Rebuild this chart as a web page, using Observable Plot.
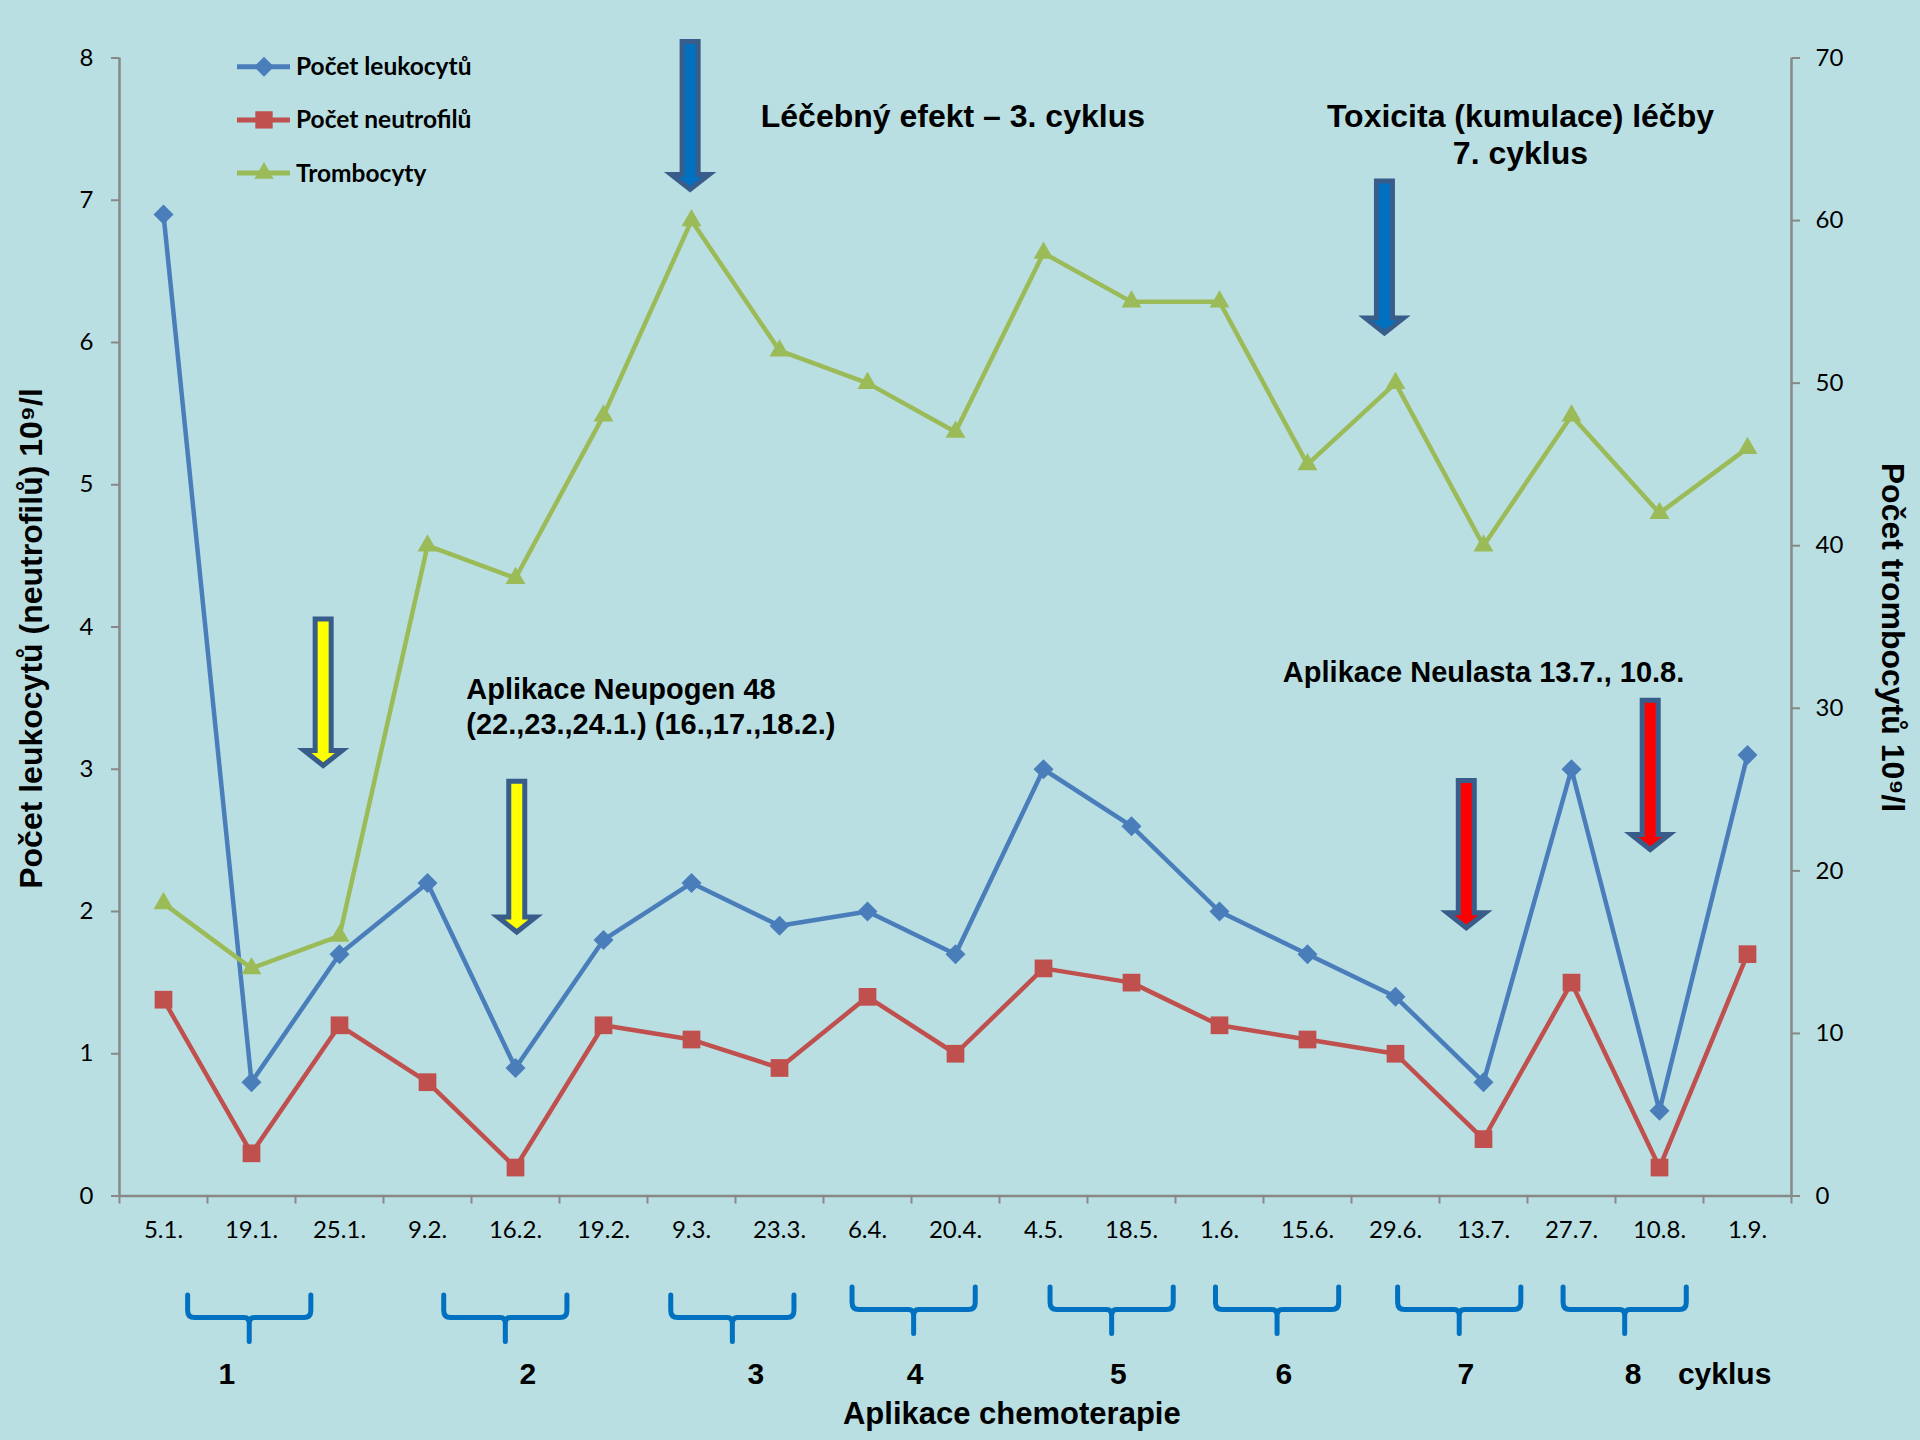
<!DOCTYPE html>
<html><head><meta charset="utf-8">
<script src="https://cdn.jsdelivr.net/npm/d3@7"></script>
<script src="https://cdn.jsdelivr.net/npm/@observablehq/plot@0.6"></script>
<style>
html,body{margin:0;padding:0;background:#b9dfe3;}
#chart svg{display:block;}
</style></head><body><div id="chart"></div>
<script>
// ---- data ----
const dates = ["5.1.","19.1.","25.1.","9.2.","16.2.","19.2.","9.3.","23.3.","6.4.","20.4.","4.5.","18.5.","1.6.","15.6.","29.6.","13.7.","27.7.","10.8.","1.9."];
const leukocyty = [6.9,0.8,1.7,2.2,0.9,1.8,2.2,1.9,2.0,1.7,3.0,2.6,2.0,1.7,1.4,0.8,3.0,0.6,3.1];
const neutrofily = [1.38,0.3,1.2,0.8,0.2,1.2,1.1,0.9,1.4,1.0,1.6,1.5,1.2,1.1,1.0,0.4,1.5,0.2,1.7];
const trombocyty = [18,14,16,40,38,48,60,52,50,47,58,55,55,45,50,40,48,42,46];
const leftTicks = [0,1,2,3,4,5,6,7,8];
const rightTicks = [0,10,20,30,40,50,60,70];
const seriesNames = ["Počet leukocytů","Počet neutrofilů","Trombocyty"];
const leftTitle = "Počet leukocytů (neutrofilů) 10⁹/l";
const rightTitle = "Počet trombocytů 10⁹/l";
const xTitle = "Aplikace chemoterapie";
const xTitlePos = 9.64;
const cycleNames = ["1","2","3","4","5","6","7","8"];
const cycleBracePos = [0.98,3.89,6.47,8.53,10.78,12.66,14.73,16.61];
const cycleLabelPos = [0.72,4.14,6.73,8.54,10.85,12.73,14.8,16.7];
const cycleWord = "cyklus";
const cycleWordPos = 17.74;
const arrowPos = [1.82,4.02,5.99,13.88,14.81,16.9];
const arrowTop = [4.07,2.93,8.13,7.15,2.935,3.5];
const arrowTip = [3.0,1.83,7.05,6.04,1.86,2.41];
const arrowKind = ["neupogen","neupogen","efekt","toxicita","neulasta","neulasta"];
const noteCenter = ["Léčebný efekt – 3. cyklus","Toxicita (kumulace) léčby\n7. cyklus"];
const noteCenterX = [8.97,15.42];
const noteCenterY = [7.514,7.258];
const noteLeft = ["Aplikace Neupogen 48\n(22.,23.,24.1.) (16.,17.,18.2.)","Aplikace Neulasta 13.7., 10.8."];
const noteLeftX = [3.44,12.72];
const noteLeftY = [3.25,3.61];

// ---- build ----
const K = 8/70; // right axis (0-70) mapped onto left axis (0-8)
const rows = dates.map((d,i)=>({i, date:d, leu:leukocyty[i], neu:neutrofily[i], trom:trombocyty[i]*K}));
const colors = ["#4a7ebb","#c0504d","#9bbb59"];
const AX = "#888888";
const ARIAL = "'Liberation Sans', Arial, sans-serif";
const arrowFill = {neupogen:"#ffff00", efekt:"#0070c0", toxicita:"#0070c0", neulasta:"#ff0000"};
const arrows = arrowPos.map((x,k)=>({x, top:arrowTop[k], tip:arrowTip[k], kind:arrowKind[k]}));
const boundaries = d3.range(dates.length+1).map(i=>i-0.5);

function arrowMark(index, scales, values, dims) {
  const g = d3.create("svg:g");
  for (const a of arrows) {
    const xc = scales.x(a.x), y0 = scales.y(a.top)+2.5, yt = scales.y(a.tip)-3.2;
    const sw=8, hw=19, hb=yt-15;
    g.append("path")
      .attr("d", `M${xc-sw},${y0}L${xc+sw},${y0}L${xc+sw},${hb}L${xc+hw},${hb}L${xc},${yt}L${xc-hw},${hb}L${xc-sw},${hb}Z`)
      .attr("fill", arrowFill[a.kind]).attr("stroke", "#385d8a")
      .attr("stroke-width", 5).attr("stroke-linejoin","miter");
  }
  return g.node();
}
function braceMark(index, scales, values, dims) {
  const g = d3.create("svg:g");
  const base = dims.height - dims.marginBottom;
  cycleBracePos.forEach((c,k)=>{
    const off = k<3 ? 8 : 0;
    const top = base+91.5+off, hy = base+114+off, bot = base+138+off;
    const xl = scales.x(c-0.7), xr = scales.x(c+0.7), xc = scales.x(c);
    const r = 7;
    g.append("path")
      .attr("d", `M${xl},${top}L${xl},${hy-r}Q${xl},${hy} ${xl+r},${hy}L${xc-5},${hy}Q${xc},${hy} ${xc},${hy+6}L${xc},${bot}M${xc},${hy+6}Q${xc},${hy} ${xc+5},${hy}L${xr-r},${hy}Q${xr},${hy} ${xr},${hy-r}L${xr},${top}`)
      .attr("fill","none").attr("stroke","#0070c0").attr("stroke-width",5).attr("stroke-linecap","round");
  });
  return g.node();
}
function legendMark(index, scales, values, dims) {
  const g = d3.create("svg:g");
  const syms = [d3.symbolDiamond2, d3.symbolSquare, d3.symbolTriangle];
  const sizes = [255, 300, 160];
  seriesNames.forEach((n,k)=>{
    const x0 = dims.marginLeft + 118, y = dims.marginTop + 9.2 + k*53.2;
    g.append("line").attr("x1",x0).attr("x2",x0+53).attr("y1",y).attr("y2",y)
      .attr("stroke",colors[k]).attr("stroke-width",5);
    g.append("path").attr("d", d3.symbol(syms[k], sizes[k])()).attr("transform",`translate(${x0+27},${y})`)
      .attr("fill",colors[k]);
    g.append("text").attr("x",x0+59).attr("y",y).attr("dy","0.35em")
      .attr("text-anchor","start")
      .attr("font-family","Lato, sans-serif").attr("font-weight","bold").attr("font-size",24.5)
      .attr("fill","black").text(n);
  });
  return g.node();
}

const chart = Plot.plot({
  width: 1920, height: 1440,
  marginLeft: 119, marginRight: 129, marginTop: 57.5, marginBottom: 244.5,
  style: {background: "#b9dfe3", fontFamily: "Lato, sans-serif", fontSize: "24px", color: "black"},
  x: {type: "linear", domain: [-0.5, dates.length-0.5], label: null},
  y: {domain: [0, 8], label: null},
  marks: [
    // axes
    Plot.ruleY([0], {stroke: AX, strokeWidth: 2.5}),
    Plot.ruleX([-0.5, dates.length-0.5], {stroke: AX, strokeWidth: 2.5}),
    Plot.axisY(leftTicks, {anchor: "left", tickSize: 8, tickPadding: 18, tickFormat: v=>String(v), stroke: AX, strokeWidth: 2, fill: "black", label: null}),
    Plot.axisY(rightTicks.map(v=>v*K), {anchor: "right", tickSize: 8, tickPadding: 16, tickFormat: v=>String(Math.round(v/K)), stroke: AX, strokeWidth: 2, fill: "black", label: null}),
    Plot.axisX(boundaries, {tickSize: 8, tickFormat: () => "", stroke: AX, strokeWidth: 2, label: null}),
    Plot.axisX(d3.range(dates.length), {tickSize: 0, tickPadding: 25, tickFormat: i=>dates[i], fill: "black", label: null}),
    // axis titles
    Plot.text([leftTitle], {text: d=>d, frameAnchor: "left", textAnchor: "middle", dx: -88, dy: 11.5, rotate: -90, fontFamily: ARIAL, fontWeight: "bold", fontSize: 32, fill: "black"}),
    Plot.text([rightTitle], {text: d=>d, frameAnchor: "right", textAnchor: "middle", dx: 101, dy: 10.5, rotate: 90, fontFamily: ARIAL, fontWeight: "bold", fontSize: 32, fill: "black"}),
    // series
    Plot.line(rows, {x: "i", y: "leu", stroke: colors[0], strokeWidth: 4.5}),
    Plot.dot(rows, {x: "i", y: "leu", symbol: "diamond2", r: 9, fill: colors[0]}),
    Plot.line(rows, {x: "i", y: "neu", stroke: colors[1], strokeWidth: 4.5}),
    Plot.dot(rows, {x: "i", y: "neu", symbol: "square", r: 10, fill: colors[1]}),
    Plot.line(rows, {x: "i", y: "trom", stroke: colors[2], strokeWidth: 4.5}),
    Plot.dot(rows, {x: "i", y: "trom", symbol: "triangle", r: 7.4, fill: colors[2]}),
    // annotations
    arrowMark,
    Plot.text(noteCenter, {text: d=>d, x: (d,k)=>noteCenterX[k], y: (d,k)=>noteCenterY[k], textAnchor: "middle", lineAnchor: "bottom", lineHeight: 1.13, fontFamily: ARIAL, fontWeight: "bold", fontSize: 32, fill: "black"}),
    Plot.text(noteLeft, {text: d=>d, x: (d,k)=>noteLeftX[k], y: (d,k)=>noteLeftY[k], textAnchor: "start", lineAnchor: "bottom", lineHeight: 1.2, fontFamily: ARIAL, fontWeight: "bold", fontSize: 29, fill: "black"}),
    // cycles
    braceMark,
    Plot.text(cycleNames, {text: d=>d, x: (d,k)=>cycleLabelPos[k], frameAnchor: "bottom", dy: 187.5, lineAnchor: "bottom", fontFamily: ARIAL, fontWeight: "bold", fontSize: 30, fill: "black"}),
    Plot.text([cycleWord], {text: d=>d, x: cycleWordPos, frameAnchor: "bottom", dy: 187.5, lineAnchor: "bottom", fontFamily: ARIAL, fontWeight: "bold", fontSize: 30, fill: "black"}),
    Plot.text([xTitle], {text: d=>d, x: xTitlePos, frameAnchor: "bottom", dy: 227.5, lineAnchor: "bottom", fontFamily: ARIAL, fontWeight: "bold", fontSize: 31, fill: "black"}),
    legendMark
  ]
});
document.getElementById("chart").appendChild(chart);
</script>
</body></html>
